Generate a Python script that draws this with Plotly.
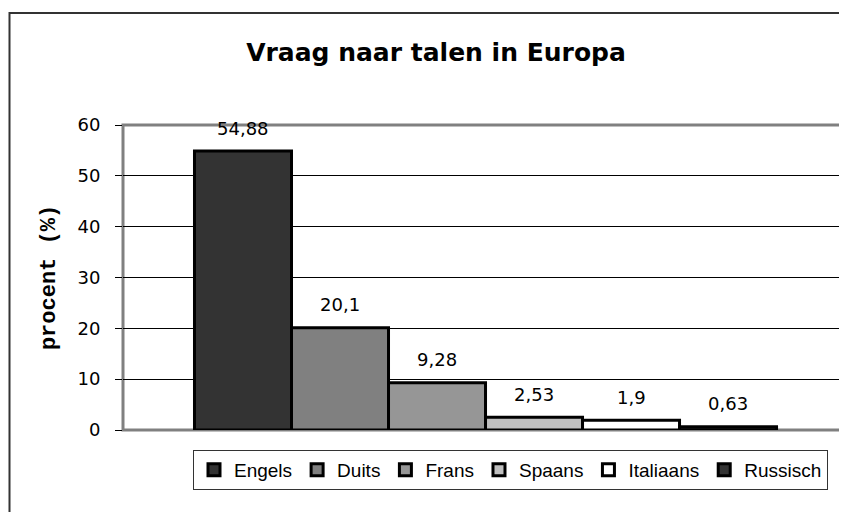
import plotly.graph_objects as go

languages = ["Engels", "Duits", "Frans", "Spaans", "Italiaans", "Russisch"]
values = [54.88, 20.1, 9.28, 2.53, 1.9, 0.63]
labels = ["54,88", "20,1", "9,28", "2,53", "1,9", "0,63"]
colors = ["#333333", "#808080", "#969696", "#C0C0C0", "#FFFFFF", "#333333"]
y_ticks = [0, 10, 20, 30, 40, 50, 60]

# page body has an 8px margin: figure is placed at screen offset (8, 8)
OFF = 8
W, H = 847 - OFF, 512 - OFF
ml, mr, mt, mb = 123 - OFF, 1, 125 - OFF, 82
pw, ph = W - ml - mr, H - mt - mb


def px(xs):
    return (xs - OFF - ml) / pw


def py(ys):
    return (H - mb - (ys - OFF)) / ph


fig = go.Figure()
for i, (lang, v, c) in enumerate(zip(languages, values, colors)):
    fig.add_trace(go.Bar(
        x=[i], y=[v], name=lang, width=1,
        marker=dict(color=c, line=dict(color="black", width=3)),
        hoverinfo="skip",
    ))
    fig.add_annotation(
        x=i, y=v, text=labels[i], showarrow=False,
        yanchor="middle", yshift=23,
        font=dict(family="DejaVu Sans", size=18, color="black"),
    )

fig.update_layout(
    width=W, height=H,
    margin=dict(l=ml, r=mr, t=mt, b=mb, pad=0),
    paper_bgcolor="white", plot_bgcolor="white",
    barmode="overlay",
    title=dict(
        text="<b>Vraag naar talen in Europa</b>",
        x=px(436), xanchor="center", xref="paper",
        y=1 - (52 - OFF) / H, yanchor="middle",
        font=dict(family="DejaVu Sans", size=25, color="black"),
    ),
    xaxis=dict(
        range=[-1.237, 6.216], showticklabels=False, showgrid=False,
        zeroline=False, ticks="", showline=False, fixedrange=True,
    ),
    yaxis=dict(
        range=[0, 60], tickvals=y_ticks, ticktext=[str(t) for t in y_ticks],
        showgrid=True, gridcolor="black", gridwidth=1, zeroline=False,
        ticks="outside", ticklen=7, tickcolor="black", tickwidth=1,
        ticklabelstandoff=11,
        tickfont=dict(family="DejaVu Sans", size=18, color="black"),
        showline=False,
        title=dict(
            text="<b>procent (%)</b>", standoff=15,
            font=dict(family="Liberation Mono", size=22, color="black"),
        ),
    ),
    legend=dict(
        orientation="h", x=px(510.5), xanchor="center",
        y=py(450), yanchor="top",
        bordercolor="#333333", borderwidth=1, bgcolor="white",
        font=dict(family="Liberation Sans", size=19, color="black"),
        itemwidth=30, tracegroupgap=0,
    ),
    showlegend=True,
)

fig.add_shape(
    type="rect", xref="paper", yref="paper",
    x0=0, x1=1, y0=0, y1=1,
    line=dict(color="#808080", width=3), fillcolor="rgba(0,0,0,0)",
    layer="between",
)
fig.add_shape(
    type="rect", xref="paper", yref="paper",
    x0=px(9.5), x1=1.05, y0=-0.3, y1=py(13),
    line=dict(color="#333333", width=2), fillcolor="rgba(0,0,0,0)",
    layer="below",
)

fig.write_html("out.html")
